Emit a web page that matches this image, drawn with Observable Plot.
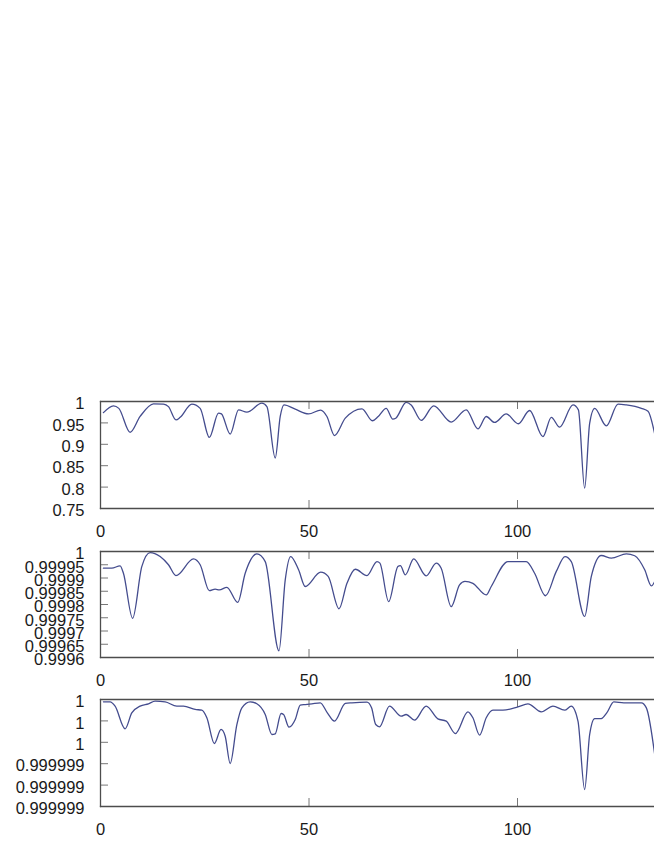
<!DOCTYPE html>
<html>
<head>
<meta charset="utf-8">
<script src="https://cdn.jsdelivr.net/npm/d3@7"></script>
<script src="https://cdn.jsdelivr.net/npm/@observablehq/plot@0.6"></script>
<style>
  html, body { margin: 0; padding: 0; background: #fff; overflow: hidden; }
  #wrap { position: relative; width: 654px; height: 846px; }
  .panel { position: absolute; left: 0; }
  .panel svg { overflow: visible; }
</style>
</head>
<body>
<div id="wrap"></div>
<script>
// ---- data ----
const xTicks = [0, 50, 100];
const xDomain = [0, 132.85];

// Panel 1
const p1x = [0.7, 3.1, 4.4, 7.1, 9.5, 12.7, 15.1, 16.3, 18.1, 19.1, 21.9, 23.9, 26.1, 28.3, 29.0, 31.1, 33.1, 35.1, 38.7, 39.9, 41.9, 43.1, 44.0, 46.7, 49.9, 52.8, 54.3, 56.1, 58.7, 62.7, 65.2, 66.6, 68.5, 70.1, 70.8, 73.3, 74.5, 76.9, 79.9, 84.1, 87.7, 90.5, 92.5, 94.5, 97.3, 100.2, 102.9, 106.1, 108.1, 110.1, 113.3, 114.6, 116.1, 117.3, 118.5, 121.3, 124.1, 126.1, 129.7, 131.3, 132.9];
const p1y = [0.974, 0.990, 0.984, 0.928, 0.965, 0.9945, 0.994, 0.988, 0.957, 0.963, 0.994, 0.984, 0.916, 0.973, 0.971, 0.924, 0.9805, 0.975, 0.996, 0.988, 0.868, 0.965, 0.992, 0.982, 0.971, 0.980, 0.965, 0.9205, 0.961, 0.983, 0.955, 0.965, 0.984, 0.959, 0.961, 0.998, 0.992, 0.956, 0.990, 0.952, 0.9805, 0.936, 0.965, 0.951, 0.971, 0.948, 0.979, 0.918, 0.963, 0.940, 0.992, 0.9805, 0.7975, 0.949, 0.984, 0.943, 0.994, 0.992, 0.984, 0.977, 0.924];
const p1Ticks = [0.75, 0.8, 0.85, 0.9, 0.95, 1];
const p1Domain = [0.75, 1];

// Panel 2
const p2x = [0.7, 2.7, 4.7, 5.5, 7.7, 9.9, 11.9, 14.3, 16.3, 18.1, 22.3, 23.9, 26.1, 27.5, 28.5, 30.3, 32.9, 34.7, 37.5, 39.5, 42.8, 44.3, 45.6, 47.5, 49.1, 52.8, 54.6, 57.2, 59.1, 61.1, 63.9, 66.3, 67.0, 69.1, 71.3, 71.9, 73.1, 75.1, 78.1, 80.5, 81.7, 84.1, 86.1, 87.4, 89.3, 92.5, 93.7, 97.7, 102.1, 104.1, 106.7, 109.3, 111.4, 112.9, 116.1, 117.7, 120.1, 122.5, 126.1, 128.1, 130.5, 132.1, 132.9];
const p2y = [0.999937, 0.999937, 0.999946, 0.999918, 0.999748, 0.999943, 0.999996, 0.999981, 0.999950, 0.999909, 0.999972, 0.999950, 0.999852, 0.999858, 0.999855, 0.999865, 0.999808, 0.999918, 0.999991, 0.999962, 0.999625, 0.999893, 0.999981, 0.999931, 0.999868, 0.999922, 0.999906, 0.999784, 0.999880, 0.999933, 0.999909, 0.999962, 0.999956, 0.999811, 0.999943, 0.999947, 0.999912, 0.999972, 0.999908, 0.999956, 0.999937, 0.999792, 0.999874, 0.999887, 0.999880, 0.999836, 0.999868, 0.999962, 0.999962, 0.999918, 0.999833, 0.999925, 0.999981, 0.999962, 0.999755, 0.999906, 0.999985, 0.999975, 0.999991, 0.999984, 0.999931, 0.999870, 0.999887];
const p2Ticks = [0.9996, 0.99965, 0.9997, 0.99975, 0.9998, 0.99985, 0.9999, 0.99995, 1];
const p2Domain = [0.9996, 1];

// Panel 3
const p3x = [0.7, 2.3, 3.5, 5.9, 7.5, 9.5, 11.5, 13.1, 15.5, 18.3, 19.9, 22.7, 24.3, 25.5, 27.3, 28.9, 29.9, 31.1, 32.7, 33.9, 35.9, 37.5, 39.5, 41.1, 41.9, 43.3, 43.9, 45.2, 46.7, 47.9, 49.1, 50.7, 52.7, 54.4, 56.1, 58.7, 60.3, 63.9, 65.0, 66.0, 66.9, 69.3, 72.1, 73.3, 75.3, 78.1, 80.9, 82.9, 85.1, 88.1, 89.3, 90.9, 92.5, 94.1, 96.5, 100.1, 102.5, 105.7, 108.5, 111.3, 112.9, 114.5, 116.1, 117.3, 118.5, 120.1, 121.4, 123.1, 125.5, 129.7, 130.9, 132.9];
const p3y = [0.999999978, 0.999999978, 0.999999938, 0.999999726, 0.999999875, 0.999999938, 0.99999996, 0.999999984, 0.999999978, 0.999999938, 0.999999938, 0.999999907, 0.9999999, 0.999999829, 0.999999589, 0.99999972, 0.999999657, 0.999999402, 0.999999766, 0.999999922, 0.999999978, 0.99999996, 0.99999986, 0.999999673, 0.999999679, 0.999999869, 0.99999986, 0.999999741, 0.999999813, 0.999999947, 0.999999953, 0.99999996, 0.999999969, 0.999999875, 0.9999997975, 0.999999963, 0.999999969, 0.999999975, 0.999999922, 0.999999766, 0.999999745, 0.999999938, 0.999999844, 0.99999986, 0.999999807, 0.999999938, 0.999999819, 0.9999997975, 0.999999682, 0.999999885, 0.999999829, 0.999999667, 0.999999829, 0.9999999, 0.9999999, 0.999999931, 0.99999996, 0.999999885, 0.999999938, 0.9999999, 0.999999938, 0.9999997975, 0.999999159, 0.999999673, 0.999999822, 0.999999822, 0.999999875, 0.999999978, 0.999999969, 0.999999969, 0.999999922, 0.999999486];
const p3Ticks = [0.999999, 0.9999992, 0.9999994, 0.9999996, 0.9999998, 1];
const p3Domain = [0.999999, 1];

// ---- drawing ----
const W = 654, ML = 100, MT = 10, MB = 30;
const lineColor = "#444c8e";
const frameColor = "#4d4d4d";
const tickColor = "#777";
const fmt = d => String(+(+d).toPrecision(6));

function panel(xs, ys, yDomain, yTicks, frameTop, frameH) {
  const fw = W - ML;
  const chart = Plot.plot({
    width: W,
    height: frameH + MT + MB,
    marginLeft: ML, marginRight: 0, marginTop: MT, marginBottom: MB,
    style: {fontFamily: "'Liberation Sans', Arial, sans-serif", fontSize: "16.5px", color: "#1a1a1a", background: "transparent"},
    x: {domain: xDomain},
    y: {domain: yDomain},
    marks: [
      Plot.tickY(yTicks, {y: d => d, insetRight: fw - 8, stroke: tickColor}),
      Plot.tickX(xTicks, {x: d => d, insetBottom: frameH - 8, stroke: tickColor}),
      Plot.tickX(xTicks, {x: d => d, insetTop: frameH - 8, stroke: tickColor}),
      Plot.line(xs, {x: xs, y: ys, curve: "monotone-x", stroke: lineColor, strokeWidth: 1.3, clip: true}),
      Plot.frame({anchor: "top", stroke: frameColor, strokeWidth: 1.3}),
      Plot.frame({anchor: "bottom", stroke: frameColor, strokeWidth: 1.3}),
      Plot.frame({anchor: "left", stroke: frameColor, strokeWidth: 1.3}),
      Plot.axisY({ticks: yTicks, tickSize: 0, tickPadding: 16, tickFormat: fmt, dy: 2.5, label: null}),
      Plot.axisX({ticks: xTicks, tickSize: 0, tickPadding: 17, tickFormat: fmt, label: null})
    ]
  });
  const div = document.createElement("div");
  div.className = "panel";
  div.style.top = (frameTop - MT) + "px";
  div.appendChild(chart);
  document.getElementById("wrap").appendChild(div);
}

panel(p1x, p1y, p1Domain, p1Ticks, 401, 107);
panel(p2x, p2y, p2Domain, p2Ticks, 551, 106);
panel(p3x, p3y, p3Domain, p3Ticks, 699, 107);
</script>
</body>
</html>
